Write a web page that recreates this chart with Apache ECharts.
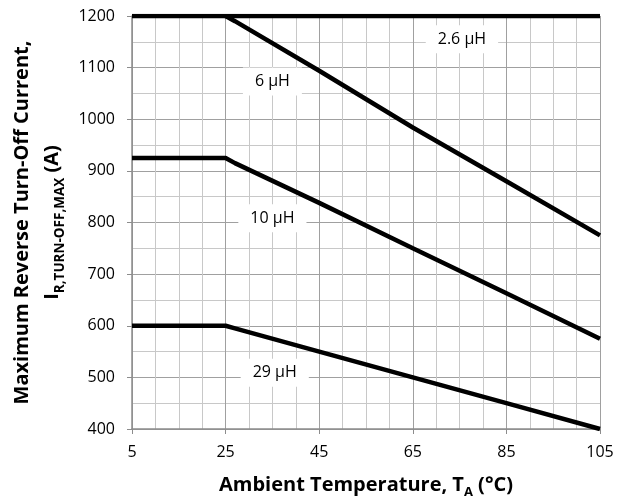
<!DOCTYPE html>
<html>
<head>
<meta charset="utf-8">
<script src="https://cdn.jsdelivr.net/npm/echarts@6/dist/echarts.min.js"></script>
<style>
  html, body { margin: 0; padding: 0; background: #fff; }
  #chart { width: 631px; height: 501px; }
</style>
</head>
<body>
<div id="chart"></div>
<script>
  // temperatures (°C) and current (A)
  const temps = [5, 25, 27, 45, 65, 85, 105];
  const l26 = [1200, 1200, 1200, 1200, 1200, 1200, 1200];
  const l6 = [null, 1200, 1190, 1094, 984, 880, 775];
  const l10 = [925, 925, 915, 838, 750, 663, 575];
  const l29 = [600, 600, 595, 550, 500, 450, 400];

  const xTicks = [5, 25, 45, 65, 85, 105];
  const yTicks = [400, 500, 600, 700, 800, 900, 1000, 1100, 1200];

  // label name, x, y (data coords)
  const tagNames = ['2.6 µH', '6 µH', '10 µH', '29 µH'];
  const tagX = [75.5, 35, 35, 35.5];
  const tagY = [1155, 1073, 808, 509];

  const font = 'Open Sans';
  const axisGray = '#8c8c8c';

  const pairs = (ys) => temps.map((t, i) => [t, ys[i]]).filter(p => p[1] != null);

  const mkSeries = (ys, idx) => ({
    type: 'line',
    data: pairs(ys),
    symbol: 'none',
    lineStyle: { color: '#000', width: 4.5 },
    z: 3,
    markPoint: {
      symbol: 'circle',
      symbolSize: 1,
      itemStyle: { color: 'rgba(0,0,0,0)' },
      label: {
        show: true,
        position: 'inside',
        formatter: tagNames[idx],
        backgroundColor: '#fff',
        padding: [6, 12],
        color: '#000',
        fontFamily: font,
        fontSize: 16
      },
      data: [{ coord: [tagX[idx], tagY[idx]] }]
    }
  });

  // main axes carry the grid (every 5 / every 50), the overlay ones only the ticks
  const baseX = {
    type: 'value', min: 5, max: 105, interval: 5, position: 'bottom'
  };
  const baseY = {
    type: 'value', min: 400, max: 1200, interval: 50, position: 'left'
  };

  const chart = echarts.init(document.getElementById('chart'));

  const option = {
    animation: false,
    backgroundColor: '#fff',
    grid: { left: 132, right: 31, top: 16, bottom: 72, containLabel: false, outerBoundsMode: 'none' },
    xAxis: [{
      ...baseX,
      axisLine: { lineStyle: { color: axisGray, width: 1.5 } },
      axisTick: { show: false },
      axisLabel: {
        customValues: xTicks, color: '#000', fontFamily: font, fontSize: 16, margin: 15,
        formatter: v => String(v)
      },
      splitLine: { show: true, lineStyle: { color: ['#a0a0a0', '#c8c8c8', '#c8c8c8', '#c8c8c8'], width: 1 } },
      name: '{a|Ambient Temperature, T}{s|A}{a| (°C)}',
      nameLocation: 'middle',
      nameGap: 42,
      nameTextStyle: {
        rich: {
          a: { fontFamily: font, fontWeight: 'bold', fontSize: 20, color: '#000', lineHeight: 28 },
          s: { fontFamily: font, fontWeight: 'bold', fontSize: 13, color: '#000', verticalAlign: 'bottom', lineHeight: 28 }
        }
      }
    }, {
      ...baseX,
      axisLine: { show: false },
      axisTick: { show: true, customValues: xTicks, length: 5, lineStyle: { color: axisGray } },
      axisLabel: { show: false },
      splitLine: { show: false }
    }],
    yAxis: [{
      ...baseY,
      axisLine: { show: true, lineStyle: { color: axisGray, width: 1.5 } },
      axisTick: { show: false },
      axisLabel: {
        customValues: yTicks, color: '#000', fontFamily: font, fontSize: 16, margin: 17,
        formatter: v => String(v)
      },
      splitLine: { show: true, lineStyle: { color: ['#a0a0a0', '#c8c8c8'], width: 1 } },
      name: '{a|Maximum Reverse Turn-Off Current,}\n{a|I}{s|R,TURN-OFF,MAX}{a| (A)}',
      nameLocation: 'middle',
      nameRotate: 90,
      nameGap: 59,
      nameTextStyle: {
        rich: {
          a: { fontFamily: font, fontWeight: 'bold', fontSize: 20, color: '#000', lineHeight: 30 },
          s: { fontFamily: font, fontWeight: 'bold', fontSize: 13.5, color: '#000', verticalAlign: 'bottom', lineHeight: 30 }
        }
      }
    }, {
      ...baseY,
      axisLine: { show: false },
      axisTick: { show: true, customValues: yTicks, length: 5, lineStyle: { color: axisGray } },
      axisLabel: { show: false },
      splitLine: { show: false }
    }],
    series: [mkSeries(l26, 0), mkSeries(l6, 1), mkSeries(l10, 2), mkSeries(l29, 3)]
  };

  chart.setOption(option);
</script>
</body>
</html>
